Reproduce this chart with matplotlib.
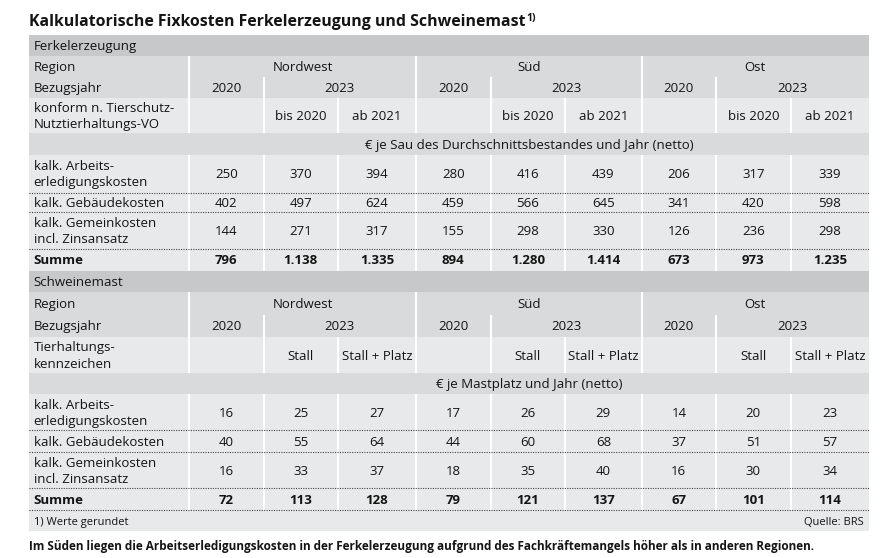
import matplotlib
matplotlib.use('Agg')
import matplotlib.pyplot as plt
from matplotlib.patches import Rectangle

# --- Daten ---
regions = ["Nordwest", "Süd", "Ost"]
years = ["2020", "2023"]
ferkel_sub = ["bis 2020", "ab 2021"]
mast_sub = ["Stall", "Stall + Platz"]
row_labels = ["kalk. Arbeits-\nerledigungskosten", "kalk. Gebäudekosten",
              "kalk. Gemeinkosten\nincl. Zinsansatz", "Summe"]

ferkel_arbeit = [250, 370, 394, 280, 416, 439, 206, 317, 339]
ferkel_gebaeude = [402, 497, 624, 459, 566, 645, 341, 420, 598]
ferkel_gemein = [144, 271, 317, 155, 298, 330, 126, 236, 298]
ferkel_summe = [796, 1138, 1335, 894, 1280, 1414, 673, 973, 1235]

mast_arbeit = [16, 25, 27, 17, 26, 29, 14, 20, 23]
mast_gebaeude = [40, 55, 64, 44, 60, 68, 37, 51, 57]
mast_gemein = [16, 33, 37, 18, 35, 40, 16, 30, 34]
mast_summe = [72, 113, 128, 79, 121, 137, 67, 101, 114]

title = "Kalkulatorische Fixkosten Ferkelerzeugung und Schweinemast"
caption = ("Im Süden liegen die Arbeitserledigungskosten in der Ferkelerzeugung "
           "aufgrund des Fachkräftemangels höher als in anderen Regionen.")

# --- Layout (Pixel) ---
col_edges = [29, 189, 263.5, 338, 416, 490.7, 565, 641.7, 716, 790.7, 869]
rows_ferkel = [35, 55.7, 77.3, 97.7, 133.3, 155, 192.7, 212.3, 248.7, 270.7]
rows_mast = [270.7, 292.3, 315, 336.7, 373.3, 394.3, 430, 452.3, 488.3, 510]
foot_row = [510, 531]

C_DARK = '#c7c8ca'
C_MID = '#d9dadc'
C_LIGHT = '#e8e9ea'
TXT = '#141414'
FS = 9.5

plt.rcParams['font.family'] = ['Open Sans', 'DejaVu Sans']


def fmt(v):
    return f"{v:,}".replace(",", ".")


def cell_text(ax, x, y0, y1, s, ha='center', bold=False, size=FS):
    # mehrzeilige Texte Zeile fuer Zeile setzen
    lines = s.split("\n")
    cy = (y0 + y1) / 2
    n = len(lines)
    for k, line in enumerate(lines):
        base = cy + 4.5 + (k - (n - 1) / 2) * 16
        ax.text(x, base, line, ha=ha, va='baseline', fontsize=size, color=TXT,
                fontweight='bold' if bold else 'normal')


def draw_section(ax, y, name, sub_label, sub_vals, unit, values, last=False):
    X0, X1 = col_edges[0], col_edges[-1]
    fills = [C_DARK, C_MID, C_MID, C_LIGHT, C_MID, C_LIGHT, C_LIGHT, C_LIGHT, C_LIGHT]
    for i, c in enumerate(fills):
        ax.add_patch(Rectangle((X0, y[i]), X1 - X0, y[i + 1] - y[i],
                               facecolor=c, edgecolor='none'))

    # weisse Trennlinien
    for r in range(3):
        base = 1 + 3 * r
        ax.vlines(col_edges[base], y[1], y[4], color='white', lw=1.5)
        ax.vlines(col_edges[base + 1], y[2], y[4], color='white', lw=1.5)
        ax.vlines(col_edges[base + 2], y[3], y[4], color='white', lw=1.5)
    for xe in col_edges[1:-1]:
        ax.vlines(xe, y[5], y[9], color='white', lw=1.5)

    # gepunktete Linien zwischen Datenzeilen
    dots = [y[6], y[7], y[8]] + ([y[9]] if last else [])
    for yy in dots:
        ax.hlines(yy, X0, X1, color='#444444', lw=0.8, linestyles=(0, (1, 1.2)))

    lx = 33.5
    cell_text(ax, lx, y[0], y[1], name, ha='left')
    cell_text(ax, lx, y[1], y[2], "Region", ha='left')
    cell_text(ax, lx, y[2], y[3], "Bezugsjahr", ha='left')
    cell_text(ax, lx, y[3], y[4], sub_label, ha='left')

    for r, reg in enumerate(regions):
        c = 1 + 3 * r
        cell_text(ax, (col_edges[c] + col_edges[c + 3]) / 2, y[1], y[2], reg)
        cell_text(ax, (col_edges[c] + col_edges[c + 1]) / 2, y[2], y[3], years[0])
        cell_text(ax, (col_edges[c + 1] + col_edges[c + 3]) / 2, y[2], y[3], years[1])
        for k, s in enumerate(sub_vals):
            cell_text(ax, (col_edges[c + 1 + k] + col_edges[c + 2 + k]) / 2, y[3], y[4], s)

    cell_text(ax, (col_edges[1] + col_edges[-1]) / 2, y[4], y[5], unit)

    for i, (lab, vals) in enumerate(zip(row_labels, values)):
        bold = lab == "Summe"
        cell_text(ax, lx, y[5 + i], y[6 + i], lab, ha='left', bold=bold)
        for j, v in enumerate(vals):
            cell_text(ax, (col_edges[1 + j] + col_edges[2 + j]) / 2,
                      y[5 + i], y[6 + i], fmt(v), bold=bold)


fig = plt.figure(figsize=(8.84, 5.58), dpi=100)
ax = fig.add_axes([0, 0, 1, 1])
ax.set_xlim(0, 884)
ax.set_ylim(558, 0)
ax.axis('off')

t = ax.text(29, 25.5, title, ha='left', va='baseline', fontsize=11.4,
            fontweight='bold', color=TXT)
fig.canvas.draw()
bb = t.get_window_extent(renderer=fig.canvas.get_renderer())
x_end = ax.transData.inverted().transform((bb.x1, bb.y0))[0]
ax.text(x_end + 0.5, 21.5, "1)", ha='left', va='baseline', fontsize=7.5,
        fontweight='bold', color=TXT)

draw_section(ax, rows_ferkel, "Ferkelerzeugung",
             "konform n. Tierschutz-\nNutztierhaltungs-VO", ferkel_sub,
             "€ je Sau des Durchschnittsbestandes und Jahr (netto)",
             [ferkel_arbeit, ferkel_gebaeude, ferkel_gemein, ferkel_summe])
draw_section(ax, rows_mast, "Schweinemast",
             "Tierhaltungs-\nkennzeichen", mast_sub,
             "€ je Mastplatz und Jahr (netto)",
             [mast_arbeit, mast_gebaeude, mast_gemein, mast_summe], last=True)

# Fusszeile
ax.add_patch(Rectangle((col_edges[0], foot_row[0]), col_edges[-1] - col_edges[0],
                       foot_row[1] - foot_row[0], facecolor=C_LIGHT, edgecolor='none'))
cell_text(ax, 33.5, foot_row[0], foot_row[1], "1) Werte gerundet", ha='left', size=8)
cell_text(ax, 864, foot_row[0], foot_row[1], "Quelle: BRS", ha='right', size=8)

ax.text(29, 550, caption, ha='left', va='baseline', fontsize=8.45,
        fontweight='bold', color=TXT)

fig.savefig('out.png', dpi=100)
